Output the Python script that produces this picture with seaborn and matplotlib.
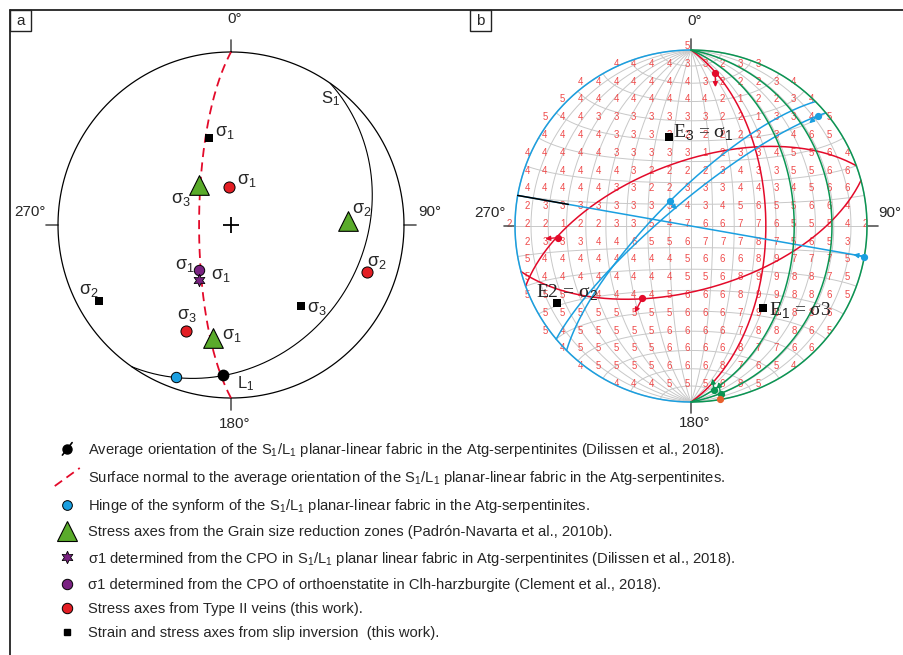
import numpy as np
import matplotlib
matplotlib.use("Agg")
import matplotlib.pyplot as plt
import seaborn as sns
from matplotlib.lines import Line2D
from matplotlib.patches import Rectangle
from matplotlib.legend_handler import HandlerBase

sns.set_theme(style="white")
plt.rcParams["font.family"] = ["Liberation Sans Narrow", "Liberation Sans", "DejaVu Sans"]
plt.rcParams["mathtext.fontset"] = "custom"
plt.rcParams["mathtext.rm"] = "Liberation Sans"
plt.rcParams["mathtext.it"] = "Liberation Sans:italic"

# ---------------- panel a : orientations (trend, plunge) ----------------
s1_plane = (125, 25)            # dip direction, dip of S1
normal_plane = (270, 75)        # surface normal to S1/L1
l1_line = (183, 14)
hinge_line = (200, 7)
axis_names = ["σ$_1$", "σ$_2$", "σ$_3$"]
grain_trend = [189, 88, 321]
grain_plunge = [34, 33, 66]
vein_trend = [357, 109, 203]
vein_plunge = [72, 18, 34]
slip_trend = [346, 240, 139]
slip_plunge = [47, 13, 38]
cpo_serp = (210, 60)
cpo_harz = (215, 64)

# ---------------- panel b : fault planes and striae ----------------
fault_family = ["r", "r", "r", "b", "b", "b", "b", "g", "g", "g"]
fault_dipdir = [90, 340, 165, 315, 320, 10, 270, 90, 90, 90]
fault_dip = [55, 60, 60, 75, 79, 90, 0, 41, 21, 0]
stria_family = ["r", "r", "r", "b", "b", "b", "g", "g", "o"]
stria_trend = [9, 265, 214, 319, 49, 100, 172, 170, 170.5]
stria_plunge = [13, 25, 49, 75, 5, 0, 6.5, 3.7, 0.3]
tip_trend = [10, 265, 213, 319, 49, 100, 172, 170, np.nan]
tip_plunge = [21, 18, 41, 80, 12, 7, 13.5, 11, np.nan]
black_part = (5, 0, 30)          # fault index, rake from, rake to
e_labels = ["E$_3$ = σ$_1$", "E2 = σ$_2$", "E$_1$ = σ3"]

# density counts of the grid (row by row, first column index)
count_start = [9, 5, 3, 2, 1, 1, 0, 0, 0, 0, -1, 0, 0, 0, 0, 1, 1, 2, 3, 5]
count_rows = [
    "5",
    "444433233",
    "4444444322234",
    "544444444212234",
    "54433333332213345",
    "44443333222223465",
    "4444433333123345564",
    "4444443222234335566",
    "4444433223334434566",
    "2333333334345655664",
    "222122335476677655542",
    "2333446556777875653",
    "5444444445666897775",
    "5444444445568998875",
    "5554444456668998865",
    "55555555666798886",
    "54555556666788865",
    "455555666687766",
    "4555566687654",
    "444555685",
]

legend_labels = [
    "Average orientation of the S$_1$/L$_1$ planar-linear fabric in the Atg-serpentinites (Dilissen et al., 2018).",
    "Surface normal to the average orientation of the S$_1$/L$_1$ planar-linear fabric in the Atg-serpentinites.",
    "Hinge of the synform of the S$_1$/L$_1$ planar-linear fabric in the Atg-serpentinites.",
    "Stress axes from the Grain size reduction zones (Padrón-Navarta et al., 2010b).",
    "σ1 determined from the CPO in S$_1$/L$_1$ planar linear fabric in Atg-serpentinites (Dilissen et al., 2018).",
    "σ1 determined from the CPO of orthoenstatite in Clh-harzburgite (Clement et al., 2018).",
    "Stress axes from Type II veins (this work).",
    "Strain and stress axes from slip inversion  (this work).",
]

RED = "#e30a2a"
BLUE = "#1a9fe0"
GREEN = "#0a9553"
TRI = "#5aab2b"
PURPLE = "#7a2282"
DOT_RED = "#e31e24"
fam_color = {"r": RED, "b": BLUE, "g": GREEN, "o": "#e8602c"}


def project(trend, plunge):
    t = np.radians(np.asarray(trend, float))
    p = np.radians(np.asarray(plunge, float))
    r = np.sqrt(2) * np.sin((np.pi / 2 - p) / 2)
    return r * np.sin(t), r * np.cos(t)


def to_tp(e, n, d):
    return np.degrees(np.arctan2(e, n)), np.degrees(np.arcsin(np.clip(d, -1, 1)))


def great_circle(dipdir, dip, r0=0, r1=180, num=240):
    s, dd, dp = np.radians(dipdir - 90), np.radians(dipdir), np.radians(dip)
    a = np.radians(np.linspace(r0, r1, num))
    e = np.cos(a) * np.sin(s) + np.sin(a) * np.cos(dp) * np.sin(dd)
    n = np.cos(a) * np.cos(s) + np.sin(a) * np.cos(dp) * np.cos(dd)
    d = np.sin(a) * np.sin(dp)
    return project(*to_tp(e, n, d))


def small_circle_ns(alpha, num=240):
    al = np.radians(alpha)
    ph = np.linspace(0, np.pi, num)
    e = np.sin(al) * np.cos(ph)
    n = np.full_like(ph, np.cos(al))
    d = np.sin(al) * np.sin(ph)
    return project(*to_tp(e, n, d))


W, H = 904, 655
fig = plt.figure(figsize=(W / 100, H / 100), dpi=100)

# frame and panel letters
ax0 = fig.add_axes([0, 0, 1, 1])
ax0.set_xlim(0, W)
ax0.set_ylim(H, 0)
ax0.axis("off")
ax0.plot([10, W], [10, 10], color="#222222", lw=1.3)
ax0.plot([10, 10], [10, H], color="#222222", lw=1.3)
for x0, letter in [(10, "a"), (470, "b")]:
    ax0.add_patch(Rectangle((x0, 10), 21, 21, fill=False, ec="#222222", lw=1.0))
    ax0.text(x0 + 10.5, 21, letter, ha="center", va="center", fontsize=11)


def stereo_axes(cx, cy, R, span=1.3):
    w = 2 * span * R
    ax = fig.add_axes([(cx - span * R) / W, 1 - (cy + span * R) / H, w / W, w / H])
    ax.set_xlim(-span, span)
    ax.set_ylim(-span, span)
    ax.axis("off")
    ax.patch.set_alpha(0)
    return ax


def frame_net(ax, tick, top_y, bot_y, lab_x, color="black"):
    th = np.linspace(0, 2 * np.pi, 400)
    ax.plot(np.sin(th), np.cos(th), color=color, lw=0.9, zorder=3)
    for az in [0, 90, 180, 270]:
        x, y = np.sin(np.radians(az)), np.cos(np.radians(az))
        ax.plot([x, x * tick], [y, y * tick], color="#555555", lw=1.2)
    ax.text(0.02, top_y, "0°", ha="center", va="center", fontsize=11)
    ax.text(0.02, bot_y, "180°", ha="center", va="center", fontsize=11)
    ax.text(lab_x, 0.075, "90°", ha="center", va="center", fontsize=11)
    ax.text(-lab_x - 0.01, 0.075, "270°", ha="center", va="center", fontsize=11)


def sigma_label(ax, x, y, text, off):
    ax.annotate(text, (x, y), xytext=off, textcoords="offset points",
                ha="left", va="center", fontsize=13, family="Liberation Sans")


# ---------------- panel a ----------------
axa = stereo_axes(231, 225, 173)
frame_net(axa, 1.07, 1.19, -1.15, 1.15)
axa.plot([0], [0], marker="+", ms=12, mew=1.3, color="black")

x, y = great_circle(*s1_plane)
axa.plot(x, y, color="black", lw=0.8, zorder=3)
x, y = great_circle(*normal_plane)
axa.plot(x, y, color=RED, lw=1.3, ls=(0, (5, 3)), zorder=3)
sx, sy = great_circle(*s1_plane, r0=10, r1=10, num=1)
axa.annotate("S$_1$", (sx[0], sy[0]), xytext=(-11.5, 5), textcoords="offset points",
             ha="center", va="center", fontsize=12, family="Liberation Sans")

gx, gy = project(grain_trend, grain_plunge)
sns.scatterplot(x=gx, y=gy, marker="^", s=200, color=TRI, edgecolor="black",
                linewidth=0.8, ax=axa, zorder=5, legend=False)
for i, off in enumerate([(6.5, 2.2), (2.9, 7.9), (-20, -10)]):
    sigma_label(axa, gx[i], gy[i], axis_names[i], off)

vx, vy = project(vein_trend, vein_plunge)
sns.scatterplot(x=vx, y=vy, marker="o", s=64, color=DOT_RED, edgecolor="black",
                linewidth=0.7, ax=axa, zorder=5, legend=False)
for i, off in enumerate([(5.8, 4.3), (0, 6.5), (-6.5, 10.8)]):
    sigma_label(axa, vx[i], vy[i], axis_names[i], off)

qx, qy = project(slip_trend, slip_plunge)
sns.scatterplot(x=qx, y=qy, marker="s", s=26, color="black", linewidth=0,
                ax=axa, zorder=5, legend=False)
for i, off in enumerate([(4.3, 3.6), (-14.4, 7.9), (4.3, -2.2)]):
    sigma_label(axa, qx[i], qy[i], axis_names[i], off)

hx, hy = project(*cpo_harz)
sns.scatterplot(x=[hx], y=[hy], marker="o", s=56, color=PURPLE, edgecolor="black",
                linewidth=0.7, ax=axa, zorder=6, legend=False)
sigma_label(axa, hx, hy, axis_names[0], (-17.3, 3.6))
px_, py_ = project(*cpo_serp)
sns.scatterplot(x=[px_], y=[py_], marker=(6, 1, 0), s=80, color=PURPLE, edgecolor="black",
                linewidth=0.6, ax=axa, zorder=6, legend=False)
sigma_label(axa, px_, py_, axis_names[0], (8.6, 2.9))

lx, ly = project(*l1_line)
sns.scatterplot(x=[lx], y=[ly], marker="o", s=72, color="black", linewidth=0,
                ax=axa, zorder=6, legend=False)
axa.annotate("L$_1$", (lx, ly), xytext=(10, -5.8), textcoords="offset points",
             ha="left", va="center", fontsize=12, family="Liberation Sans")
bx, by = project(*hinge_line)
sns.scatterplot(x=[bx], y=[by], marker="o", s=56, color=BLUE, edgecolor="black",
                linewidth=0.7, ax=axa, zorder=6, legend=False)

# ---------------- panel b ----------------
axb = stereo_axes(691, 226, 176, span=1.28)
NET = "#c8c8c8"
for dip in range(10, 91, 10):
    for dd in ([90, 270] if dip < 90 else [90]):
        x, y = great_circle(dd, dip)
        axb.plot(x, y, color=NET, lw=0.7, zorder=1)
for alpha in range(10, 171, 10):
    x, y = small_circle_ns(alpha)
    axb.plot(x, y, color=NET, lw=0.7, zorder=1)

step = 0.101
for r, (start, row) in enumerate(zip(count_start, count_rows)):
    for k, ch in enumerate(row):
        c = start + k
        axb.text(-0.022 + step * (c - 9), 0.012 + step * (10 - r), ch,
                 ha="center", va="center", fontsize=6.9, color="#ef4a4a",
                 family="Liberation Sans", zorder=2)

frame_net(axb, 1.065, 1.165, -1.12, 1.13, color=NET)
for fam, dd, dip in zip(fault_family, fault_dipdir, fault_dip):
    x, y = great_circle(dd, dip)
    axb.plot(x, y, color=fam_color[fam], lw=1.1, zorder=4)
fi, ra, rb = black_part
x, y = great_circle(fault_dipdir[fi], fault_dip[fi], ra, rb)
axb.plot(x, y, color="black", lw=1.1, zorder=4)

for fam, t, p, tt, tp in zip(stria_family, stria_trend, stria_plunge, tip_trend, tip_plunge):
    x, y = project(t, p)
    axb.plot([x], [y], marker="o", ms=4.2, color=fam_color[fam], zorder=6)
    if not np.isnan(tt):
        x2, y2 = project(tt, tp)
        axb.annotate("", xy=(x2, y2), xytext=(x, y), zorder=6,
                     arrowprops=dict(arrowstyle="-|>", color=fam_color[fam], lw=1.0,
                                     shrinkA=0, shrinkB=0, mutation_scale=7))

ex, ey = project(slip_trend, slip_plunge)
sns.scatterplot(x=ex, y=ey, marker="s", s=40, color="black", linewidth=0,
                ax=axb, zorder=7, legend=False)
for i, off in enumerate([(3, 3.6), (-15, 8), (4.3, -1.4)]):
    axb.annotate(e_labels[i], (ex[i], ey[i]), xytext=off, textcoords="offset points",
                 ha="left", va="center", fontsize=14, family="Liberation Serif",
                 color="#222222", zorder=8)


# ---------------- legend ----------------
class HandlerSlash(HandlerBase):
    def __init__(self, half, dot=None):
        super().__init__()
        self.half = half
        self.dot = dot

    def create_artists(self, legend, orig_handle, xdescent, ydescent, width, height,
                       fontsize, trans):
        cx = width / 2 - xdescent
        cy = height / 2 - ydescent
        hx, hy = self.half
        line = Line2D([cx - hx, cx + hx], [cy - hy, cy + hy])
        self.update_prop(line, orig_handle, legend)
        line.set_transform(trans)
        arts = [line]
        if self.dot is not None:
            d = Line2D([cx], [cy], ls="none", marker="o", ms=self.dot, color="black")
            d.set_transform(trans)
            arts.append(d)
        return arts


h_avg = Line2D([], [], color="black", lw=1.2)
h_norm = Line2D([], [], color=RED, lw=1.3, ls=(0, (5, 3)))
handles = [
    h_avg,
    h_norm,
    Line2D([], [], ls="none", marker="o", ms=7, mfc=BLUE, mec="black", mew=0.7),
    Line2D([], [], ls="none", marker="^", ms=15, mfc=TRI, mec="black", mew=0.8),
    Line2D([], [], ls="none", marker=(6, 1, 0), ms=9, mfc=PURPLE, mec="black", mew=0.6),
    Line2D([], [], ls="none", marker="o", ms=7.5, mfc=PURPLE, mec="black", mew=0.7),
    Line2D([], [], ls="none", marker="o", ms=7.5, mfc=DOT_RED, mec="black", mew=0.7),
    Line2D([], [], ls="none", marker="s", ms=4.5, mfc="black", mec="black"),
]
fig.legend(handles, legend_labels, loc="upper left", bbox_to_anchor=(54 / W, 1 - 441 / H),
           frameon=False, fontsize=10.6, handlelength=1.8, handletextpad=0.5,
           labelspacing=0.69, borderpad=0, borderaxespad=0,
           handler_map={h_avg: HandlerSlash((3.5, 4.5), dot=6.5),
                        h_norm: HandlerSlash((9, 6.5))})

fig.savefig("out.png", dpi=100)
